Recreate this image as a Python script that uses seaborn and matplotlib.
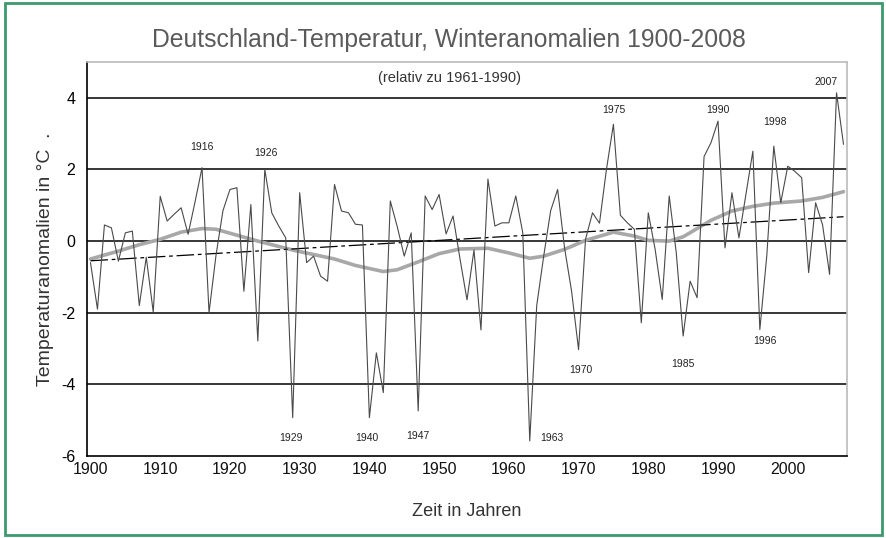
import matplotlib
matplotlib.use("Agg")
import matplotlib.pyplot as plt
import seaborn as sns
import pandas as pd
from matplotlib.patches import Rectangle
from matplotlib.ticker import FixedLocator

# Winter temperature anomalies Germany (relative to 1961-1990)
years = list(range(1900, 2009))
anomaly = [
    -0.60, -1.90, 0.45, 0.37, -0.56, 0.23, 0.28, -1.80, -0.45, -1.98,   # 1900s
    1.25, 0.56, 0.75, 0.93, 0.19, 1.10, 2.05, -2.00, -0.40, 0.85,       # 1910s
    1.44, 1.49, -1.40, 1.02, -2.79, 2.00, 0.79, 0.42, 0.09, -4.93,      # 1920s
    1.35, -0.60, -0.42, -0.98, -1.12, 1.58, 0.84, 0.79, 0.47, 0.45,     # 1930s
    -4.93, -3.12, -4.23, 1.12, 0.40, -0.42, 0.23, -4.74, 1.26, 0.88,    # 1940s
    1.30, 0.20, 0.70, -0.50, -1.64, -0.25, -2.48, 1.73, 0.42, 0.51,     # 1950s
    0.51, 1.26, 0.23, -5.58, -1.80, -0.42, 0.85, 1.44, -0.20, -1.40,    # 1960s
    -3.03, 0.05, 0.79, 0.50, 2.00, 3.26, 0.72, 0.51, 0.33, -2.28,       # 1970s
    0.79, -0.25, -1.63, 1.26, -0.30, -2.65, -1.12, -1.58, 2.36, 2.75,   # 1980s
    3.35, -0.19, 1.35, 0.09, 1.30, 2.51, -2.47, -0.40, 2.65, 1.07,      # 1990s
    2.09, 1.95, 1.77, -0.88, 1.07, 0.45, -0.93, 4.14, 2.70,             # 2000s
]

# smoothed curve (grey)
smooth_years = [1900, 1904, 1907, 1910, 1913, 1916, 1918, 1920, 1924, 1929,
                1935, 1938, 1942, 1944, 1947, 1950, 1953, 1957, 1960, 1963,
                1965, 1968, 1971, 1975, 1978, 1980, 1983, 1985, 1987, 1989,
                1992, 1995, 1998, 2002, 2005, 2008]
smooth_vals = [-0.50, -0.28, -0.10, 0.05, 0.25, 0.35, 0.33, 0.22, 0.00, -0.25,
               -0.50, -0.68, -0.85, -0.80, -0.58, -0.35, -0.22, -0.20, -0.33, -0.48,
               -0.42, -0.23, 0.02, 0.25, 0.14, 0.02, 0.00, 0.12, 0.35, 0.58,
               0.84, 0.97, 1.06, 1.12, 1.22, 1.38]

# linear trend end points
trend_years = [1900, 2008]
trend_vals = [-0.55, 0.68]

# labelled extreme years
label_text = ["1916", "1926", "1929", "1940", "1947", "1963", "1970",
              "1975", "1985", "1990", "1996", "1998", "2007"]
label_x = [1916.0, 1925.2, 1928.7, 1939.6, 1947.0, 1966.2, 1970.3,
           1975.1, 1985.0, 1990.0, 1996.7, 1998.1, 2005.5]
label_y = [2.63, 2.46, -5.49, -5.49, -5.43, -5.49, -3.59,
           3.67, -3.42, 3.67, -2.80, 3.33, 4.43]

df = pd.DataFrame({"Jahr": years, "Anomalie": anomaly})
df_s = pd.DataFrame({"Jahr": smooth_years, "Glatt": smooth_vals})
df_t = pd.DataFrame({"Jahr": trend_years, "Trend": trend_vals})

sns.set_style("white")
plt.rcParams["font.family"] = ["Liberation Sans", "DejaVu Sans"]
plt.rcParams["axes.unicode_minus"] = False

fig = plt.figure(figsize=(8.87, 5.38), dpi=100)
ax = fig.add_axes([87 / 887, 1 - 456 / 538, 760 / 887, 394 / 538])

for v in [-4, -2, 0, 2, 4]:
    ax.axhline(v, color="black", lw=1.1, zorder=1)

sns.lineplot(data=df_s, x="Jahr", y="Glatt", ax=ax, color="#a8a8a8", lw=2.6, zorder=2)
sns.lineplot(data=df_t, x="Jahr", y="Trend", ax=ax, color="black", lw=0.9,
             linestyle=(0, (14, 3, 3, 3)), zorder=3)
sns.lineplot(data=df, x="Jahr", y="Anomalie", ax=ax, color="#4a4a4a", lw=0.8, zorder=4)

for t, x, y in zip(label_text, label_x, label_y):
    ax.text(x, y, t, fontsize=7.5, ha="center", va="center", color="#222222")

ax.text(1951.5, 4.55, "(relativ zu 1961-1990)", fontsize=10.5, ha="center", va="center",
        color="#333333")

ax.set_xlim(1899.5, 2008.5)
ax.set_ylim(-6, 5)
ax.set_yticks([-6, -4, -2, 0, 2, 4])
ax.set_xticks(range(1900, 2001, 10))
ax.xaxis.set_minor_locator(FixedLocator([1899.5 + k for k in range(110)]))
ax.tick_params(axis="x", which="major", length=0, labelsize=11.5, pad=4, colors="#111111")
ax.tick_params(axis="x", which="minor", length=5, width=1, direction="out", color="black")
ax.tick_params(axis="y", length=5, width=1, direction="out", labelsize=11.5, colors="#111111")
ax.tick_params(axis="y", colors="black")

ax.set_xlabel("Zeit in Jahren", fontsize=13, color="#333333", labelpad=19)
ax.set_ylabel("Temperaturanomalien in °C  .", fontsize=14, color="#333333", labelpad=5)

for side in ["left", "bottom"]:
    ax.spines[side].set_color("black")
    ax.spines[side].set_linewidth(1.2)
for side in ["top", "right"]:
    ax.spines[side].set_color("#bbbbbb")
    ax.spines[side].set_linewidth(1.2)

fig.text(449 / 887, 1 - 40 / 538, "Deutschland-Temperatur, Winteranomalien 1900-2008",
         fontsize=17.8, ha="center", va="center", color="#5a5a5a")

fig.patches.append(Rectangle((0.006, 0.006), 0.988, 0.988, transform=fig.transFigure,
                             fill=False, edgecolor="#3c9a6e", lw=2))

fig.savefig("out.png", dpi=100)
